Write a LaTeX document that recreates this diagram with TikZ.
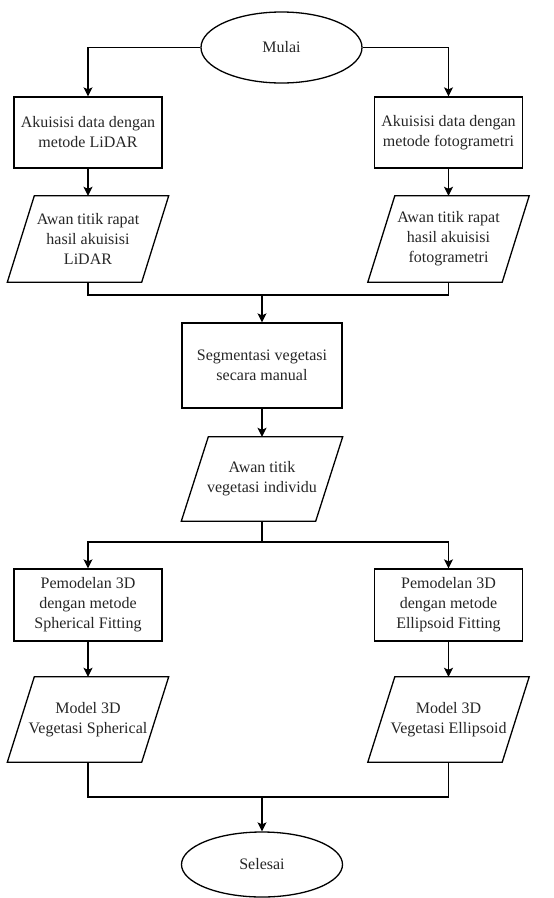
\documentclass[tikz,border=0pt]{standalone}
\usepackage{fontspec}
\setmainfont{Liberation Serif}
\usetikzlibrary{arrows.meta,shapes.geometric}
\newcommand\drawpara[1]{\draw[shapeline] (#1.south west) -- ([xshift=-27pt]#1.south east) -- (#1.north east) -- ([xshift=27pt]#1.north west) -- cycle;}
\tikzset{
  shapeline/.style={draw=black, line width=1.3pt},
  conn/.style={draw=black, line width=1.3pt},
  arr/.style={conn, -{Stealth[length=9pt,width=9pt,inset=2pt]}},
  txt/.style={font=\fontsize{16}{20}\selectfont, align=center, inner sep=0pt, text=black!85},
  procbox/.style={txt, shapeline, rectangle, minimum width=148pt, minimum height=71pt},
  iobox/.style={txt, rectangle, minimum width=161pt, minimum height=86pt},
  term/.style={txt, shapeline, ellipse, minimum width=161pt, minimum height=71pt},
}
\begin{document}
\begin{tikzpicture}[x=1pt,y=-1pt]
\useasboundingbox (0,0) rectangle (554,898);
\node[term] (mulai) at (281.5,47.5) {Mulai};
\node[procbox] (b1) at (88,132.5) {Akuisisi data dengan\\metode LiDAR};
\node[procbox] (b2) at (448.5,132.5) {Akuisisi data dengan\\metode fotogrametri};
\node[iobox] (p1) at (88,239) {Awan titik rapat\\hasil akuisisi\\LiDAR};
\node[iobox] (p2) at (448.5,239) {Awan titik rapat\\hasil akuisisi\\fotogrametri};
\drawpara{p1}
\drawpara{p2}
\coordinate (m1) at (262,295);
\node[procbox, minimum width=160pt, minimum height=85pt] (seg) at (262,365.5) {Segmentasi vegetasi\\secara manual};
\node[iobox, minimum height=84pt] (p3) at (262,479) {Awan titik\\vegetasi individu};
\drawpara{p3}
\coordinate (s1) at (262,542);
\node[procbox, minimum height=72pt] (b3) at (88,605) {Pemodelan 3D\\dengan metode\\Spherical Fitting};
\node[procbox, minimum height=72pt] (b4) at (448.5,605) {Pemodelan 3D\\dengan metode\\Ellipsoid Fitting};
\node[iobox, minimum height=85pt] (p4) at (88,719.5) {Model 3D\\Vegetasi Spherical};
\node[iobox, minimum height=85pt] (p5) at (448.5,719.5) {Model 3D\\Vegetasi Ellipsoid};
\drawpara{p4}
\drawpara{p5}
\coordinate (m2) at (262,797);
\node[term, minimum height=65pt] (selesai) at (262,864.5) {Selesai};
% connectors
\draw[arr] (mulai.west) -| (b1.north);
\draw[arr] (mulai.east) -| (b2.north);
\draw[arr] (b1) -- (p1);
\draw[arr] (b2) -- (p2);
\draw[conn] (p1.south) |- (m1) -| (p2.south);
\draw[arr] (m1) -- (seg.north);
\draw[arr] (seg) -- (p3);
\draw[conn] (p3.south) -- (s1);
\draw[arr] (s1) -| (b3.north);
\draw[arr] (s1) -| (b4.north);
\draw[arr] (b3) -- (p4);
\draw[arr] (b4) -- (p5);
\draw[conn] (p4.south) |- (m2) -| (p5.south);
\draw[arr] (m2) -- (selesai.north);
\end{tikzpicture}
\end{document}
